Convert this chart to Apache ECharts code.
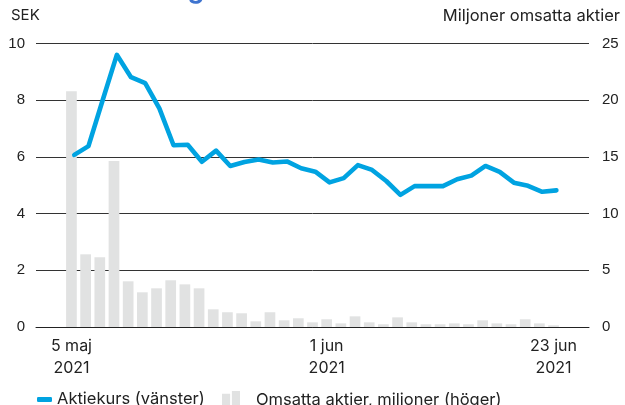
<!DOCTYPE html>
<html>
<head>
<meta charset="utf-8">
<script src="https://cdn.jsdelivr.net/npm/echarts@6/dist/echarts.min.js"></script>
<style>
html,body{margin:0;padding:0;background:#fff;}
#c{width:625px;height:405px;}
</style>
</head>
<body>
<div id="c"></div>
<script>
// Trading days
var dates = ['2021-05-05','2021-05-06','2021-05-07','2021-05-10','2021-05-11','2021-05-12','2021-05-14',
  '2021-05-17','2021-05-18','2021-05-19','2021-05-20','2021-05-21','2021-05-24','2021-05-25','2021-05-26',
  '2021-05-27','2021-05-28','2021-05-31','2021-06-01','2021-06-02','2021-06-03','2021-06-04','2021-06-07',
  '2021-06-08','2021-06-09','2021-06-10','2021-06-11','2021-06-14','2021-06-15','2021-06-16','2021-06-17',
  '2021-06-18','2021-06-21','2021-06-22','2021-06-23'];
// Aktiekurs (SEK), left axis
var price = [6.07, 6.38, 8.0, 9.6, 8.81, 8.6, 7.71, 6.41, 6.43, 5.83, 6.22, 5.68, 5.82, 5.91, 5.8, 5.84,
  5.6, 5.48, 5.1, 5.25, 5.71, 5.54, 5.15, 4.66, 4.97, 4.97, 4.97, 5.21, 5.34, 5.68, 5.47, 5.09, 4.98, 4.77, 4.82];
// Omsatta aktier, miljoner, right axis
var volume = [20.8, 6.41, 6.15, 14.64, 4.03, 3.06, 3.41, 4.12, 3.76, 3.41, 1.56, 1.3, 1.21, 0.5, 1.3, 0.59,
  0.77, 0.41, 0.68, 0.32, 0.94, 0.41, 0.24, 0.85, 0.41, 0.24, 0.24, 0.32, 0.24, 0.59, 0.32, 0.24, 0.68, 0.32, 0.15];
// X tick labels
var tickDates = ['2021-05-05', '2021-06-01', '2021-06-23'];
var tickLabels = ['5 maj\n2021', '1 jun\n2021', '23 jun\n2021'];
var leftTicks = [0, 2, 4, 6, 8, 10];
var rightTicks = [0, 5, 10, 15, 20, 25];

var tickIdx = tickDates.map(function (d) { return dates.indexOf(d); });
var barData = volume.map(function (v, i) { return [i, v]; });
var LINE_SHIFT = 0.2;
var lineData = price.map(function (v, i) { return [i + LINE_SHIFT, v]; });

var chart = echarts.init(document.getElementById('c'), null, {renderer: 'canvas'});
var numFont = 'Liberation Sans, Arial, sans-serif';
var txtFont = 'Inter, Lato, sans-serif';
chart.setOption({
  animation: false,
  backgroundColor: '#fff',
  grid: {left: 36, right: 36, top: 43.5, bottom: 78, containLabel: false},
  graphic: [
    {type: 'text', left: 11, top: -23, style: {text: 'Kursutveckling', font: 'bold 26px ' + txtFont, fill: '#3f74cf'}},
    {type: 'text', left: 11, top: 8, style: {text: 'SEK', font: '15px ' + txtFont, fill: '#222'}},
    {type: 'text', right: 5, top: 8, style: {text: 'Miljoner omsatta aktier', font: '16.5px ' + txtFont, fill: '#222'}}
  ],
  legend: [
    {data: ['Aktiekurs (vänster)'], left: 32, top: 386, icon: 'roundRect', itemWidth: 15, itemHeight: 5,
      textStyle: {fontFamily: txtFont, fontSize: 16.5, color: '#222'}, selectedMode: false},
    {data: [{name: 'Omsatta aktier, miljoner (höger)', icon: 'path://M0,3h9v17h-9z M11,0h9v20h-9z'}], left: 217, top: 386,
      itemWidth: 20, itemHeight: 18, itemGap: 14,
      textStyle: {fontFamily: txtFont, fontSize: 16.5, color: '#222', padding: [0, 0, 0, 10]}, selectedMode: false}
  ],
  xAxis: {
    type: 'value', min: -2.5, max: 36.5,
    axisLine: {show: true, onZero: false, lineStyle: {color: '#222', width: 1}},
    axisTick: {show: false},
    splitLine: {show: false},
    axisLabel: {
      customValues: tickIdx,
      margin: 8,
      fontFamily: txtFont, fontSize: 16, color: '#222', lineHeight: 22,
      formatter: function (v) {
        var k = tickIdx.indexOf(Math.round(v));
        return k >= 0 ? tickLabels[k] : '';
      }
    }
  },
  yAxis: [
    {type: 'value', min: leftTicks[0], max: leftTicks[leftTicks.length - 1], interval: 2, position: 'left',
      axisLine: {show: false}, axisTick: {show: false},
      axisLabel: {margin: 11, fontFamily: numFont, fontSize: 15, color: '#222'},
      splitLine: {show: true, lineStyle: {color: '#333', width: 1}}},
    {type: 'value', min: rightTicks[0], max: rightTicks[rightTicks.length - 1], interval: 5, position: 'right',
      axisLine: {show: false}, axisTick: {show: false},
      axisLabel: {margin: 13, fontFamily: numFont, fontSize: 15, color: '#222'},
      splitLine: {show: false}}
  ],
  series: [
    {name: 'Omsatta aktier, miljoner (höger)', type: 'bar', yAxisIndex: 1, data: barData, barWidth: 10.7,
      itemStyle: {color: '#e1e2e2'}, z: 2},
    {name: 'Aktiekurs (vänster)', type: 'line', yAxisIndex: 0, data: lineData, showSymbol: false, symbol: 'none',
      lineStyle: {color: '#00a3e1', width: 4.6, cap: 'round', join: 'round'}, itemStyle: {color: '#00a3e1'}, z: 5}
  ]
});
</script>
</body>
</html>
